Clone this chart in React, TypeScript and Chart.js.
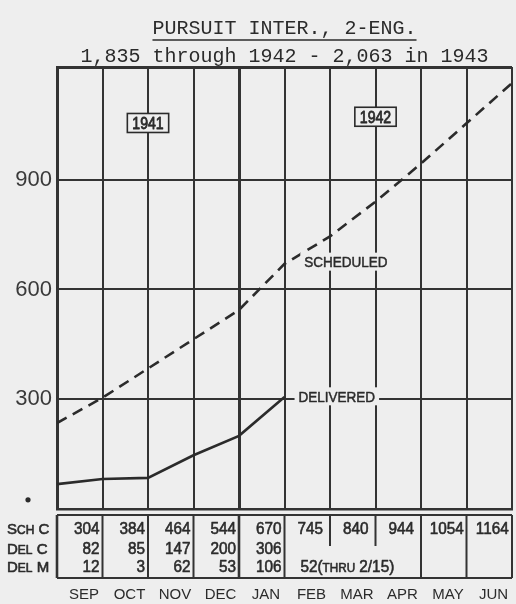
import { useEffect, useRef } from "react";
import { Chart, registerables } from "chart.js";

Chart.register(...registerables);

// ---------- data ----------
const months = ["SEP", "OCT", "NOV", "DEC", "JAN", "FEB", "MAR", "APR", "MAY", "JUN"];
const scheduledCum = [304, 384, 464, 544, 670, 745, 840, 944, 1054, 1164];
const deliveredCum = [82, 85, 147, 200, 306];
const deliveredMonthly = ["12", "3", "62", "53", "106"];
const febDeliveredMonthly = "52";
const febNote = "THRU 2/15";
const scheduledStart = 235; // cumulative at end of August
const deliveredStart = 68;
const yTickValues = [0, 300, 600, 900];
const yMax = 1208;
const rowLabels = ["SCH C", "DEL C", "DEL M"];
const titleText = "PURSUIT INTER., 2-ENG.";
const subtitleText = "1,835 through 1942 - 2,063 in 1943";
const yearLabels = ["1941", "1942"];
const seriesLabels = ["SCHEDULED", "DELIVERED"];

// ---------- style ----------
const BG = "#eeeeee";
const INK = "#2b2b2b";
const GRID = "#333333";
const SANS = '"Liberation Sans", Arial, sans-serif';

function drawText(
  ctx: CanvasRenderingContext2D,
  text: string,
  x: number,
  baseline: number,
  size: number,
  align: "left" | "right" | "center",
  sx = 0.88,
  stroke = 0.6
) {
  ctx.save();
  ctx.font = `${size}px ${SANS}`;
  const w = ctx.measureText(text).width * sx;
  const left = align === "left" ? x : align === "right" ? x - w : x - w / 2;
  ctx.translate(left, baseline);
  ctx.scale(sx, 1);
  ctx.textAlign = "left";
  ctx.textBaseline = "alphabetic";
  ctx.fillStyle = INK;
  ctx.fillText(text, 0, 0);
  if (stroke > 0) {
    ctx.strokeStyle = INK;
    ctx.lineWidth = stroke;
    ctx.lineJoin = "round";
    ctx.strokeText(text, 0, 0);
  }
  ctx.restore();
  return w;
}

function drawSegs(ctx: CanvasRenderingContext2D, segs: [string, number][], x: number, baseline: number, sx: number) {
  let cx = x;
  for (const [t, s] of segs) cx += drawText(ctx, t, cx, baseline, s, "left", sx);
  return cx - x;
}

function smallCaps(label: string, big: number, small: number): [string, number][] {
  const out: [string, number][] = [];
  label.split(" ").forEach((w, i) => {
    if (i > 0) out.push([" ", big]);
    out.push([w[0], big]);
    if (w.length > 1) out.push([w.slice(1), small]);
  });
  return out;
}

const decorPlugin = {
  id: "decor",
  beforeDraw(chart: any) {
    const { ctx, width, height } = chart;
    ctx.save();
    ctx.fillStyle = BG;
    ctx.fillRect(0, 0, width, height);
    ctx.restore();
  },
  afterDraw(chart: any) {
    const { ctx, chartArea: ca } = chart;
    const xs = chart.scales.x;
    const ys = chart.scales.y;
    const X = (v: number) => xs.getPixelForValue(v);
    const Y = (v: number) => ys.getPixelForValue(v);

    // title underline
    const tb = chart.titleBlock;
    if (tb) {
      ctx.save();
      ctx.font = `20px "Liberation Mono", "DejaVu Sans Mono", monospace`;
      const tw = ctx.measureText(titleText).width;
      const cx = (tb.left + tb.right) / 2;
      const uy = tb.top + 19 + 20 + 1;
      ctx.strokeStyle = INK;
      ctx.lineWidth = 1.5;
      ctx.beginPath();
      ctx.moveTo(cx - tw / 2, uy);
      ctx.lineTo(cx + tw / 2, uy);
      ctx.stroke();
      ctx.restore();
    }

    // zero marker dot
    ctx.save();
    ctx.fillStyle = INK;
    ctx.beginPath();
    ctx.arc(ca.left - 29, Y(25), 2.6, 0, Math.PI * 2);
    ctx.fill();
    ctx.restore();

    // year boxes
    const yearPos: [number, number][] = [
      [2, 1055],
      [7, 1072],
    ];
    yearLabels.forEach((t, i) => {
      const cx = X(yearPos[i][0]);
      const cy = Y(yearPos[i][1]);
      ctx.save();
      ctx.font = `16px ${SANS}`;
      const w = ctx.measureText(t).width * 0.88 + 10;
      const h = 19;
      ctx.fillStyle = BG;
      ctx.fillRect(cx - w / 2, cy - h / 2, w, h);
      ctx.strokeStyle = INK;
      ctx.lineWidth = 1.6;
      ctx.strokeRect(cx - w / 2, cy - h / 2, w, h);
      ctx.restore();
      drawText(ctx, t, cx, cy + 6, 16, "center", 0.88, 0.8);
    });

    // series labels
    const labPos: [number, number][] = [
      [6.35, 676],
      [6.15, 308],
    ];
    seriesLabels.forEach((t, i) => {
      const cx = X(labPos[i][0]);
      const cy = Y(labPos[i][1]);
      ctx.save();
      ctx.font = `15px ${SANS}`;
      const w = ctx.measureText(t).width * 0.9 + 8;
      ctx.fillStyle = BG;
      ctx.fillRect(cx - w / 2, cy - 9, w, 18);
      ctx.restore();
      drawText(ctx, t, cx, cy + 5.4, 15, "center", 0.9, 0.5);
    });

    // table
    const top = ca.bottom + 6;
    const bottom = ca.bottom + 69;
    const rows = [ca.bottom + 19, ca.bottom + 39, ca.bottom + 57];
    ctx.save();
    ctx.strokeStyle = GRID;
    ctx.lineWidth = 2.2;
    ctx.beginPath();
    ctx.moveTo(X(0), top);
    ctx.lineTo(X(10), top);
    ctx.moveTo(X(0), bottom);
    ctx.lineTo(X(10), bottom);
    ctx.stroke();
    for (let i = 0; i <= 10; i++) {
      ctx.lineWidth = i === 0 || i === 4 ? 2.6 : 2;
      const end = i === 6 || i === 7 ? ca.bottom + 37 : bottom;
      ctx.beginPath();
      ctx.moveTo(X(i), top);
      ctx.lineTo(X(i), end);
      ctx.stroke();
    }
    ctx.restore();

    // row labels (small caps lettering)
    rowLabels.forEach((lab, r) => {
      drawSegs(ctx, smallCaps(lab, 15, 12), 7, rows[r] + 5.5, 1.0);
    });

    const NUM = 17;
    const nb = (r: number) => rows[r] + 6;
    const cell = (text: string, col: number, r: number) => {
      if (col < 5) drawText(ctx, text, X(col + 1) - 3, nb(r), NUM, "right", 0.9);
      else drawText(ctx, text, (X(col) + X(col + 1)) / 2 + 3, nb(r), NUM, "center", 0.9);
    };
    scheduledCum.forEach((v, i) => cell(String(v), i, 0));
    deliveredCum.forEach((v, i) => cell(String(v), i, 1));
    deliveredMonthly.forEach((v, i) => cell(v, i, 2));
    const noteSegs: [string, number][] = [
      [febDeliveredMonthly + "(", NUM],
      [febNote.split(" ")[0], 13],
      [" " + febNote.split(" ").slice(1).join(" ") + ")", NUM],
    ];
    drawSegs(ctx, noteSegs, X(5) + 16, nb(2), 0.9);
  },
};

export default function App() {
  const ref = useRef<HTMLCanvasElement>(null);
  useEffect(() => {
    document.body.style.margin = "0";
    document.body.style.background = BG;
    const canvas = ref.current!;
    const schedPts = [{ x: 0, y: scheduledStart }, ...scheduledCum.map((v, i) => ({ x: i + 1, y: v }))];
    const delPts = [{ x: 0, y: deliveredStart }, ...deliveredCum.map((v, i) => ({ x: i + 1, y: v }))];
    const chart = new Chart(canvas, {
      type: "line",
      data: {
        datasets: [
          {
            label: "Scheduled",
            data: schedPts,
            borderColor: INK,
            borderWidth: 2.6,
            borderDash: [11, 7],
            pointRadius: 0,
            tension: 0,
          },
          {
            label: "Delivered",
            data: delPts,
            borderColor: INK,
            borderWidth: 2.6,
            pointRadius: 0,
            tension: 0,
          },
        ],
      },
      options: {
        animation: false,
        responsive: false,
        devicePixelRatio: 1,
        layout: { padding: { left: 0, right: 4, top: 0, bottom: 0 } },
        plugins: {
          legend: { display: false },
          tooltip: { enabled: false },
          title: {
            display: true,
            text: titleText,
            fullSize: false,
            color: INK,
            font: { family: '"Liberation Mono", "DejaVu Sans Mono", monospace', size: 20, weight: "normal", lineHeight: 1 },
            padding: { top: 19, bottom: 0 },
          },
          subtitle: {
            display: true,
            text: subtitleText,
            fullSize: false,
            color: INK,
            font: { family: '"Liberation Mono", "DejaVu Sans Mono", monospace', size: 20, weight: "normal", lineHeight: 1 },
            padding: { top: 8, bottom: 0 },
          },
        },
        scales: {
          x: {
            type: "linear",
            min: 0,
            max: 10,
            afterBuildTicks: (s: any) => {
              s.ticks = months.map((_, i) => ({ value: i })).concat([{ value: 10 }]);
            },
            afterFit: (s: any) => {
              s.height = 95;
              s.paddingLeft = 0;
              s.paddingRight = 0;
            },
            grid: {
              color: GRID,
              lineWidth: (c: any) => (c.index === 4 ? 3 : 2),
              drawTicks: false,
            },
            border: { display: true, color: GRID, width: 2.5 },
            ticks: {
              autoSkip: false,
              maxRotation: 0,
              padding: 77,
              labelOffset: 27,
              color: INK,
              font: { family: SANS, size: 15 },
              callback: (v: any) => months[Number(v)] ?? "",
            },
          },
          y: {
            type: "linear",
            min: 0,
            max: yMax,
            afterBuildTicks: (s: any) => {
              s.ticks = yTickValues.concat([yMax]).map((v) => ({ value: v }));
            },
            afterFit: (s: any) => {
              s.width = 57;
              s.paddingTop = 0;
              s.paddingBottom = 0;
            },
            grid: {
              color: GRID,
              lineWidth: (c: any) => (c.tick && c.tick.value === yMax ? 3 : 2),
              drawTicks: false,
            },
            border: { display: true, color: GRID, width: 3 },
            ticks: {
              padding: 5,
              color: "#3a3a3a",
              font: { family: SANS, size: 22 },
              callback: (v: any) => (Number(v) === 0 || Number(v) === yMax ? "" : String(v)),
            },
          },
        },
      },
      plugins: [decorPlugin],
    });
    return () => chart.destroy();
  }, []);
  return <canvas ref={ref} width={516} height={604} style={{ display: "block" }} />;
}
